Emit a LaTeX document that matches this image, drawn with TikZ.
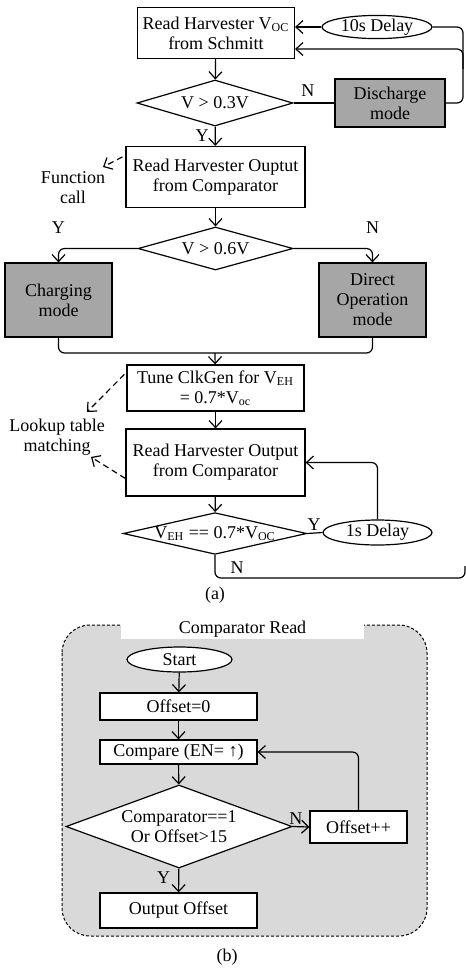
\documentclass[tikz,border=0pt]{standalone}
\usepackage{fontspec}
\setmainfont{Liberation Serif}
\usetikzlibrary{arrows.meta,shapes.geometric}
\tikzset{
  fc_node/.style = {align=center, inner sep=0pt, text centered, draw=black,
    line width=0.6pt},
  fc_box/.style = {fc_node, rectangle, fill=white},% plain step
  fc_grey/.style = {fc_node, rectangle, fill=gray!70},% mode step
  fc_dec/.style = {fc_node, diamond, fill=white},% decision
  fc_oval/.style = {fc_node, ellipse, fill=white},% delay, start
  fc_txt/.style = {align=center, inner sep=0pt},% free text
  fc_loop/.style = {rounded corners=3pt},% bent connector
  fc_call/.style = {->, dash pattern=on 3pt off 2pt}% function call
}

\begin{document}
\begin{tikzpicture}[x=0.5pt, y=-0.5pt, line width=0.6pt,
  >={Straight Barb[length=3.5pt,width=6.5pt]},
  font=\fontsize{9}{10}\selectfont]
\useasboundingbox (0,0) rectangle (466,971);

% (a)
\node [fc_box, minimum width=78.5pt, minimum height=25.5pt] (schmitt) at (216,33)
  {Read Harvester V\textsubscript{OC}\\from Schmitt};
\node [fc_oval, minimum width=55pt, minimum height=9.5pt] (delay10) at (377,27) {10s Delay};
\node [fc_dec, aspect=3.4, minimum width=78pt, minimum height=23pt] (v03) at (215,103) {V > 0.3V};
\node [fc_grey, minimum width=55pt, minimum height=24pt] (discharge) at (390,103) {Discharge\\mode};
\node [fc_box, minimum width=89.5pt, minimum height=30.5pt] (readout) at (215.5,177)
  {Read Harvester Ouptut\\from Comparator};
\node [fc_txt] (fcall) at (73,188) {Function\\call};
\node [fc_dec, aspect=3.6, minimum width=77.5pt, minimum height=21.5pt] (v06) at (215.5,248.5) {V > 0.6V};
\node [fc_grey, minimum width=53.5pt, minimum height=37pt] (charging) at (58.5,300) {Charging\\mode};
\node [fc_grey, minimum width=53.5pt, minimum height=37pt] (direct) at (372.5,300) {Direct\\Operation\\mode};
\node [fc_box, minimum width=88.5pt, minimum height=23pt] (tune) at (215.5,388)
  {Tune ClkGen for V\textsubscript{EH}\\= 0.7*V\textsubscript{oc}};
\node [fc_txt] (lookup) at (57,437) {Lookup table\\matching};
\node [fc_box, minimum width=89.5pt, minimum height=33.5pt] (readout2) at (215.5,462.5)
  {Read Harvester Output\\from Comparator};
\node [fc_dec, aspect=4.4, minimum width=90pt, minimum height=20.5pt] (veh) at (215,533.5)
  {V\textsubscript{EH} == 0.7*V\textsubscript{OC}};
\node [fc_oval, minimum width=54.5pt, minimum height=12.5pt] (delay1) at (377.5,532.5) {1s Delay};
\node [fc_txt] (capa) at (215,595) {(a)};

\coordinate (rt) at (463,27);
\coordinate (rm) at (463,49);
\coordinate (mg) at (215,353);
\coordinate (nb1) at (215,578);
\coordinate (nb2) at (465,578);
\coordinate (nb3) at (465,566);
\coordinate (lk1) at (87,412);
\coordinate (lk2) at (91,457);
\coordinate (fc1) at (103,167);

\draw [->] (schmitt) -- (v03);
\draw [->] (v03) -- (readout) node [fc_txt, pos=0.45, left=3pt] (y1) {Y};
\draw (v03.east) -- (discharge.west) node [fc_txt, pos=0.35, above=3pt] (n1) {N};
\draw [->] (delay10.west) -- (delay10.west -| schmitt.east);
\draw [fc_loop] (discharge.east) -| (rt) -- (delay10.east);
\draw [->, fc_loop] ([yshift=-10pt]rm) -- (rm) -- (rm -| schmitt.east);
\draw [fc_call] ([xshift=-1.5pt,yshift=-5.5pt]readout.north west) -- (fc1);
\draw [->] (readout) -- (v06);
\draw [->, fc_loop] (v06.west) -| (charging.north) node [fc_txt, pos=0.5, above=7pt] (y2) {Y};
\draw [->, fc_loop] (v06.east) -| (direct.north) node [fc_txt, pos=0.5, above=7pt] (n2) {N};
\draw [fc_loop] (charging.south) |- (mg) -| (direct.south);
\draw [->] (mg) -- (tune);
\draw [fc_call] ([xshift=-1pt,yshift=-5pt]tune.north west) -- (lk1);
\draw [->] (tune) -- (readout2);
\draw [fc_call] ([yshift=-8pt]readout2.west) -- (lk2);
\draw [->] (readout2) -- (veh);
\draw (veh.east) -- (delay1.west) node [fc_txt, pos=0.45, above=1pt] (y3) {Y};
\draw [->, fc_loop] (delay1.north) |- (readout2.east);
\draw [fc_loop] (veh.south) -- (nb1) -- (nb2) -- (nb3);
\node [fc_txt] (n3) at (237,568) {N};

% (b)
\draw [fill=gray!30, line width=0.5pt, dash pattern=on 1.5pt off 1pt, rounded corners=14pt]
  (62,625) rectangle (427,936);
\node [fill=white, inner sep=0pt, minimum width=121.5pt, minimum height=9.5pt] (title)
  at (242.5,629.5) {Comparator Read};
\node [fc_oval, minimum width=52.5pt, minimum height=12.5pt] (start) at (179.5,659.5) {Start};
\node [fc_box, minimum width=78.5pt, minimum height=13.5pt] (offset0) at (178.5,706.5) {Offset=0};
\node [fc_box, minimum width=78.5pt, minimum height=12pt] (compare) at (178.5,752) {Compare (EN= ↑)};
\node [fc_dec, aspect=2.7, minimum width=113pt, minimum height=41.5pt] (check) at (179,826.5)
  {Comparator==1\\Or Offset>15};
\node [fc_box, minimum width=48.5pt, minimum height=16pt] (offinc) at (358.5,827) {Offset++};
\node [fc_box, minimum width=78.5pt, minimum height=17.5pt] (output) at (178.5,910.5) {Output Offset};
\node [fc_txt] (capb) at (227,957) {(b)};

\draw [->] (start) -- (offset0);
\draw [->] (offset0) -- (compare);
\draw [->] (compare) -- (check);
\draw [->] (check.east) -- (offinc.west) node [fc_txt, pos=0.2, above=1pt] (n4) {N};
\draw [->, fc_loop] (offinc.north) |- (compare.east);
\draw [->] (check) -- (output) node [fc_txt, pos=0.4, left=4pt] (y4) {Y};
\end{tikzpicture}
\end{document}
